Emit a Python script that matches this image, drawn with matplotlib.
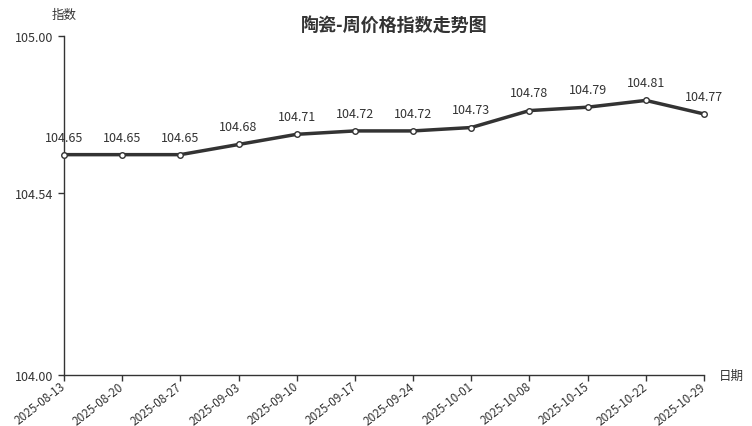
import matplotlib.pyplot as plt

plt.rcParams['font.family'] = ['Noto Sans CJK SC', 'DejaVu Sans']

dates = ['2025-08-13', '2025-08-20', '2025-08-27', '2025-09-03', '2025-09-10', '2025-09-17',
         '2025-09-24', '2025-10-01', '2025-10-08', '2025-10-15', '2025-10-22', '2025-10-29']
values = [104.65, 104.65, 104.65, 104.68, 104.71, 104.72, 104.72, 104.73, 104.78, 104.79, 104.81, 104.77]
yticks = [104.0, 104.537, 105.0]
ytick_labels = ['104.00', '104.54', '105.00']

fig = plt.figure(figsize=(7.52, 4.27), dpi=100)
ax = fig.add_axes([64 / 752, 1 - 376 / 427, 640 / 752, 339 / 427])

x = list(range(len(dates)))
ax.plot(x, values, color='#333333', lw=2.5, marker='o', ms=4,
        markerfacecolor='white', markeredgecolor='#333333', markeredgewidth=1, zorder=3,
        clip_on=False)
for xi, v in zip(x, values):
    ax.annotate(f'{v:.2f}', (xi, v), xytext=(0, 8), textcoords='offset points',
                ha='center', va='bottom', fontsize=9, color='#333333')

ax.set_xlim(0, len(dates) - 1)
ax.set_ylim(104, 105)
ax.set_xticks(x)
ax.set_xticklabels(dates, rotation=38, ha='right', va='center', rotation_mode='anchor',
                   fontsize=8.4, color='#333333')
ax.set_yticks(yticks)
ax.set_yticklabels(ytick_labels, fontsize=9, color='#333333')
ax.tick_params(axis='both', direction='out', length=4, color='#333333', width=1)
ax.tick_params(axis='x', pad=3)

for s in ['top', 'right']:
    ax.spines[s].set_visible(False)
for s in ['left', 'bottom']:
    ax.spines[s].set_color('#333333')
    ax.spines[s].set_linewidth(1)

fig.text(64 / 752, 1 - 15 / 427, '指数', ha='center', va='center', fontsize=9, color='#333333')
fig.text(731 / 752, 1 - 376 / 427, '日期', ha='center', va='center', fontsize=9, color='#333333')
fig.text(394 / 752, 1 - 25 / 427, '陶瓷-周价格指数走势图', ha='center', va='center',
         fontsize=13, fontweight='bold', color='#333333')

fig.savefig('out.png', dpi=100)
